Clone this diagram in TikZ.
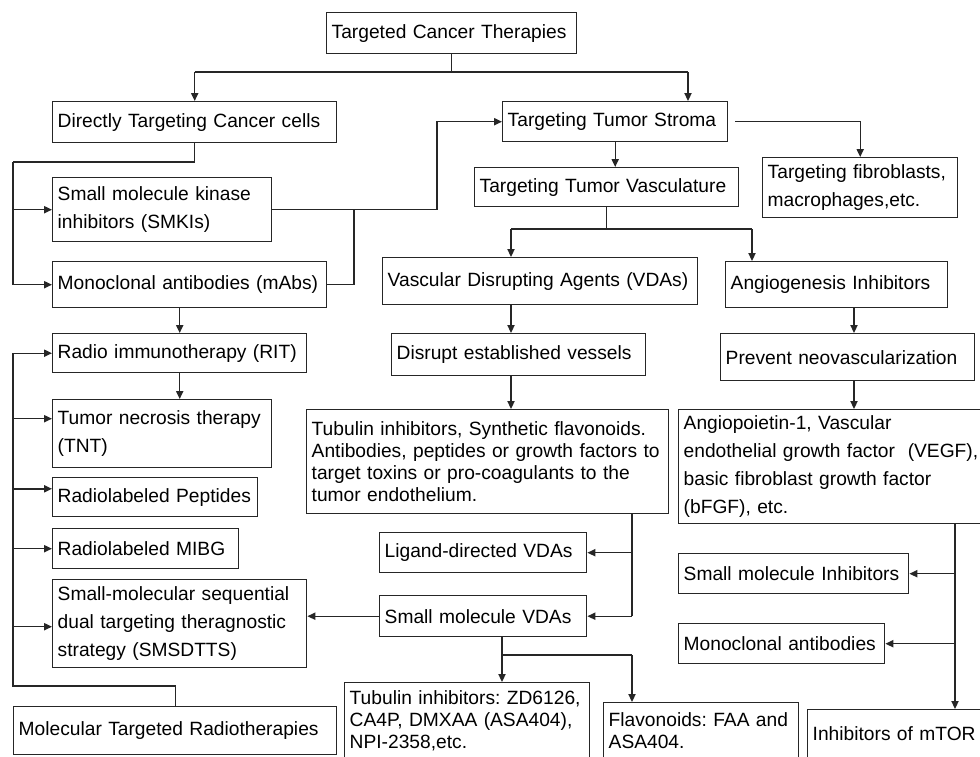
\documentclass[tikz,border=0pt]{standalone}
\usepackage{fontspec}
\setmainfont{Liberation Sans}
\usetikzlibrary{positioning, arrows.meta, calc}

\begin{document}
\frenchspacing
\begin{tikzpicture}[
  x=0.5pt, y=-0.5pt,
  font=\fontsize{9.6}{14}\selectfont,
  item/.style={draw=black!85, line width=0.7pt, anchor=north west, align=left,
    inner xsep=2.5pt, inner ysep=1pt},
  tight/.style={font=\fontsize{9.6}{11}\selectfont},
  flow/.style={-{Triangle[length=4pt,width=3.6pt]}, line width=0.7pt, draw=black!85},
  wire/.style={line width=0.7pt, draw=black!85}
]
\useasboundingbox (0,0) rectangle (980,756);
\clip (0,0) rectangle (980,756);
\fill[white] (0,0) rectangle (980,756);

% --- root and the two branches ---
\node[item, text width=120pt, minimum height=20.5pt] (tct) at (326,12) {Targeted Cancer Therapies};
\node[item, text width=137pt, minimum height=20.5pt] (direct) at (52,101) {Directly Targeting Cancer cells};
\node[item, text width=107.5pt, minimum height=20pt] (stroma) at (502,101) {Targeting Tumor Stroma};

% --- directly targeting cancer cells ---
\node[item, text width=104.5pt, minimum height=32pt] (smki) at (52,177) {Small molecule kinase\\inhibitors (SMKIs)};
\node[item, text width=132pt, minimum height=23pt] (mabs) at (52,261) {Monoclonal antibodies (mAbs)};
\node[item, text width=122pt, minimum height=19.5pt] (rit) at (52,333) {Radio immunotherapy (RIT)};
\node[item, text width=104.5pt, minimum height=34pt] (tnt) at (52,399) {Tumor necrosis therapy\\(TNT)};
\node[item, text width=97.5pt, minimum height=19.5pt] (rpep) at (52,477) {Radiolabeled Peptides};
\node[item, text width=88pt, minimum height=20pt] (mibg) at (52,528) {Radiolabeled MIBG};
\node[item, text width=122pt, minimum height=44pt] (smsd) at (52,579) {Small-molecular sequential\\dual targeting theragnostic\\strategy (SMSDTTS)};
\node[item, text width=156.5pt, minimum height=24pt] (mtr) at (13,706) {Molecular Targeted Radiotherapies};

% --- tumor stroma ---
\node[item, text width=92.5pt, minimum height=30pt] (fib) at (762,157) {Targeting fibroblasts,\\macrophages,etc.};
\node[item, text width=127pt, minimum height=19.5pt] (vasc) at (474,167) {Targeting Tumor Vasculature};
\node[item, text width=152.5pt, minimum height=23.5pt] (vdas) at (382,257) {Vascular Disrupting Agents (VDAs)};
\node[item, text width=106pt, minimum height=23pt] (angio) at (725,261) {Angiogenesis Inhibitors};
\node[item, text width=122pt, minimum height=21pt] (disrupt) at (391,333) {Disrupt established vessels};
\node[item, text width=122pt, minimum height=23.5pt] (prevent) at (720,333) {Prevent neovascularization};
\node[item, tight, text width=176pt, minimum height=52pt] (tubs) at (306,409)
  {Tubulin inhibitors, Synthetic flavonoids.\\Antibodies, peptides or growth factors to\\target toxins or pro-coagulants to the\\tumor endothelium.};
\node[item, text width=156pt, minimum height=57pt] (angf) at (678,409)
  {Angiopoietin-1, Vascular\\endothelial growth factor\ \ (VEGF),\\basic fibroblast growth factor\\(bFGF), etc.};
\node[item, text width=98.5pt, minimum height=20pt] (ligand) at (379,532) {Ligand-directed VDAs};
\node[item, text width=98.5pt, minimum height=20.5pt] (smvda) at (379,595) {Small molecule VDAs};
\node[item, text width=110pt, minimum height=20pt] (smi) at (678,553) {Small molecule Inhibitors};
\node[item, text width=98pt, minimum height=20pt] (mono) at (678,623) {Monoclonal antibodies};
\node[item, tight, text width=117.5pt, minimum height=38pt] (tubz) at (344,682)
  {Tubulin inhibitors: ZD6126,\\CA4P, DMXAA (ASA404),\\NPI-2358,etc.};
\node[item, tight, text width=92.5pt, minimum height=28pt] (flav) at (603,702) {Flavonoids: FAA and\\ASA404.};
\node[item, text width=91.5pt, minimum height=24pt] (mtor) at (807,709) {Inhibitors of mTOR};

% junctions and columns
\coordinate (split) at (tct.south |- 0,72);
\coordinate (vsplit) at (vasc.south |- 0,229);
\coordinate (lbus) at (13,162);
\coordinate (rbus) at (13,686);
\coordinate (scol) at (688,0);
\coordinate (mcol) at (354,0);
\coordinate (bcol) at (437,0);
\coordinate (vcol) at (511,0);
\coordinate (acol) at (752,0);
\coordinate (pcol) at (854,0);
\coordinate (tcol) at (632,0);
\coordinate (ssplit) at (502,655);
\coordinate (fcol) at (955,0);

% top split
\draw[wire] (tct.south) -- (split);
\draw[wire] (split -| direct.north) -- (split -| scol);
\draw[flow] (split -| direct.north) -- (direct.north);
\draw[flow] (split -| scol) -- (scol |- stroma.north);

% cancer cell side
\draw[wire] (direct.south) |- (lbus);
\draw[flow] (lbus) |- (mabs.west);
\draw[flow] (lbus |- smki.west) -- (smki.west);
\draw[wire] (mabs.east) -| (mcol |- smki.east);
\draw[flow] (smki.east) -| (bcol |- stroma.west) -- (stroma.west);
\draw[flow] (rit.north |- mabs.south) -- (rit.north);
\draw[flow] (rit.south) -- (rit.south |- tnt.north);

% radiotherapy bus
\draw[wire] (mtr.north) |- (rbus) -- (rbus |- rit.west);
\draw[flow] (rbus |- rit.west) -- (rit.west);
\foreach \n/\dy in {tnt/7.5pt, rpep/4.2pt, mibg/0pt, smsd/-1.5pt} {
  \path ([yshift=\dy]\n.west) coordinate (\n-in);
  \draw[flow] (rbus |- \n-in) -- (\n-in);
}

% stroma side
\draw[flow] ([xshift=3.5pt]stroma.east) -| (fib.north);
\draw[flow] (stroma.south) -- (stroma.south |- vasc.north);
\draw[wire] (vasc.south) -- (vsplit);
\draw[wire] (vsplit -| vcol) -- (vsplit -| acol);
\draw[flow] (vsplit -| vcol) -- (vcol |- vdas.north);
\draw[flow] (vsplit -| acol) -- (acol |- angio.north);
\draw[flow] (vcol |- vdas.south) -- (vcol |- disrupt.north);
\draw[flow] (vcol |- disrupt.south) -- (vcol |- tubs.north);
\draw[flow] (pcol |- angio.south) -- (pcol |- prevent.north);
\draw[flow] (pcol |- prevent.south) -- (pcol |- angf.north);

% disrupting agents
\draw[wire] (tcol |- tubs.south) -- (tcol |- smvda.east);
\draw[flow] (tcol |- ligand.east) -- (ligand.east);
\draw[flow] (tcol |- smvda.east) -- (smvda.east);
\draw[flow] (smvda.west) -- (smvda.west -| smsd.east);
\draw[wire] (ssplit |- smvda.south) -- (ssplit) -- (ssplit -| tcol);
\draw[flow] (ssplit) -- (ssplit |- tubz.north);
\draw[flow] (ssplit -| tcol) -- (tcol |- flav.north);

% angiogenesis inhibitors
\draw[flow] (fcol |- angf.south) -- (fcol |- mtor.north);
\draw[flow] (fcol |- smi.east) -- (smi.east);
\draw[flow] (fcol |- mono.east) -- (mono.east);

\end{tikzpicture}
\end{document}
